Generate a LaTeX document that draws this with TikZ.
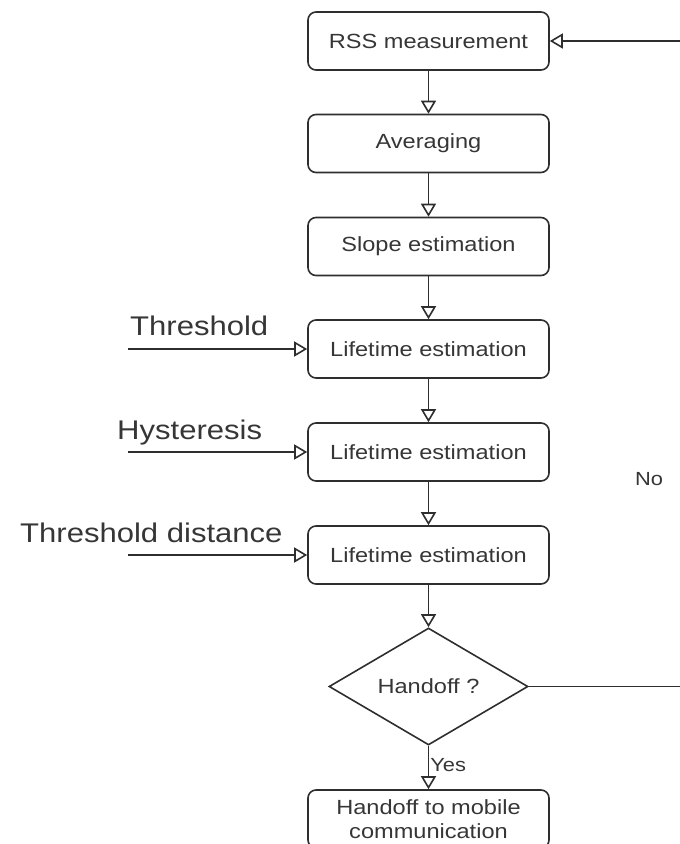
\documentclass[tikz,border=0pt]{standalone}
\usepackage{fontspec}
\setmainfont{Liberation Sans}[FakeStretch=1.15]
\usetikzlibrary{arrows.meta,shapes.geometric}

\definecolor{linec}{HTML}{2E2E2E}
\definecolor{txt}{HTML}{363636}

\tikzset{
  proc/.style={draw=linec, line width=1.6pt, rounded corners=8pt,
    minimum width=241pt, minimum height=58pt, inner sep=2pt,
    align=center, text=txt, font=\fontsize{20.5}{24}\selectfont},
  decision/.style={draw=linec, line width=1.6pt, diamond, aspect=1.7,
    minimum width=199pt, minimum height=117pt, inner sep=0pt,
    text=txt, font=\fontsize{20.5}{24}\selectfont},
  flow/.style={draw=linec, line width=1.6pt,
    -{Triangle[open, width=15pt, length=13pt]}},
  inlabel/.style={text=txt, inner sep=0pt, font=\fontsize{27}{30}\selectfont},
  edgelabel/.style={text=txt, inner sep=0pt, font=\fontsize{19}{22}\selectfont}
}

\begin{document}
\begin{tikzpicture}[x=1pt, y=-1pt]
  \useasboundingbox (0,0) rectangle (680,844);

  % main chain of processing steps
  \node[proc] (rss)   at (428.5,41)    {RSS measurement};
  \node[proc] (avg)   at (428.5,143.5) {Averaging};
  \node[proc] (slope) at (428.5,246.5) {Slope estimation};
  \node[proc] (life1) at (428.5,349)   {Lifetime estimation};
  \node[proc] (life2) at (428.5,452)   {Lifetime estimation};
  \node[proc] (life3) at (428.5,555)   {Lifetime estimation};
  \node[decision] (hand) at (428.5,686.5) {Handoff ?};
  \node[proc] (mobile) at (428.5,819)  {Handoff to mobile\\communication};

  \draw[flow] (rss)   -- (avg);
  \draw[flow] (avg)   -- (slope);
  \draw[flow] (slope) -- (life1);
  \draw[flow] (life1) -- (life2);
  \draw[flow] (life2) -- (life3);
  \draw[flow] (life3) -- (hand);
  \draw[flow] (hand)  -- node[edgelabel, anchor=west, xshift=1pt, pos=0.45] (yes) {Yes} (mobile);

  % side inputs
  \coordinate (in1) at (128,349);
  \coordinate (in2) at (128,452);
  \coordinate (in3) at (128,555);
  \draw[flow] (in1) -- (life1.west);
  \draw[flow] (in2) -- (life2.west);
  \draw[flow] (in3) -- (life3.west);
  \node[inlabel, anchor=base west] (thr)  at (130,335) {Threshold};
  \node[inlabel, anchor=base west] (hyst) at (117,439) {Hysteresis};
  \node[inlabel, anchor=base west] (dist) at (20,542)  {Threshold distance};

  % feedback loop when no handoff
  \coordinate (fbb) at (682,686.5);
  \coordinate (fbt) at (682,41);
  \draw[flow] (hand.east) -- (fbb) -- (fbt) -- (rss.east);
  \node[edgelabel] (no) at (649,479) {No};
\end{tikzpicture}
\end{document}
